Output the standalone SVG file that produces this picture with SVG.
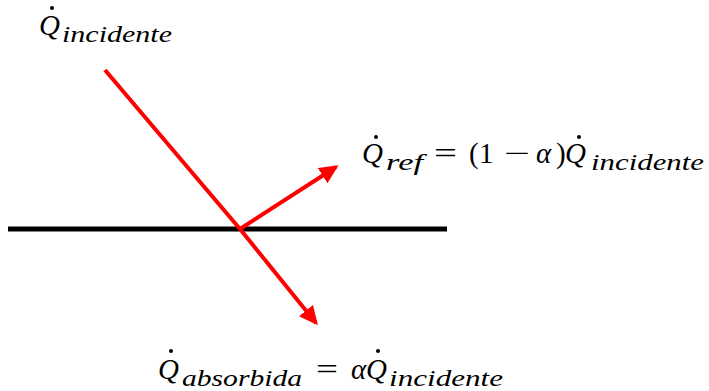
<svg xmlns="http://www.w3.org/2000/svg" width="709" height="391" viewBox="0 0 709 391">
<style>
.m{font-style:italic;font-size:29px;fill:#000}
.n{font-style:normal;font-size:29px;fill:#000}
.s{font-style:italic;font-size:24px;fill:#000}
.dot{fill:#000}
.ray{stroke:#ff0000;stroke-width:4;fill:none}
</style>
<defs>
<marker id="ah" markerUnits="userSpaceOnUse" markerWidth="20" markerHeight="18" refX="16" refY="9" orient="auto">
<path d="M0,0 L19,9 L0,18 Z" fill="#ff0000"/>
</marker>
</defs>
<g id="surface">
<line x1="8" y1="229" x2="447" y2="229" stroke="#000" stroke-width="5"/>
</g>
<g id="connectors">
<line class="ray" x1="105" y1="70" x2="240" y2="229"/>
<line class="ray" x1="240" y1="229" x2="316" y2="323" marker-end="url(#ah)"/>
<line class="ray" x1="240" y1="229" x2="336" y2="167" marker-end="url(#ah)"/>
</g>
<g font-family="Liberation Serif, Times New Roman, serif">
<g id="label-incidente">
<text class="m" x="39" y="35">Q</text>
<circle class="dot" cx="52" cy="8" r="2"/>
<text class="s" x="62" y="42" textLength="110" lengthAdjust="spacingAndGlyphs">incidente</text>
</g>
<g id="label-ref">
<text class="m" x="362" y="163">Q</text>
<circle class="dot" cx="376" cy="137" r="2"/>
<text class="s" x="386" y="170" textLength="37" lengthAdjust="spacingAndGlyphs">ref</text>
<text class="n" x="434" y="163" textLength="23" lengthAdjust="spacingAndGlyphs">=</text>
<text class="n" x="469" y="163">(</text>
<text class="n" x="479" y="163">1</text>
<text class="n" x="504" y="163" textLength="26" lengthAdjust="spacingAndGlyphs">−</text>
<text class="m" x="536" y="163">α</text>
<text class="n" x="556" y="163">)</text>
<text class="m" x="565" y="163">Q</text>
<circle class="dot" cx="579" cy="137" r="2"/>
<text class="s" x="591" y="170" textLength="113" lengthAdjust="spacingAndGlyphs">incidente</text>
</g>
<g id="label-absorbida">
<text class="m" x="158" y="379">Q</text>
<circle class="dot" cx="171" cy="351" r="2"/>
<text class="s" x="182" y="386" textLength="120" lengthAdjust="spacingAndGlyphs">absorbida</text>
<text class="n" x="316" y="379" textLength="22" lengthAdjust="spacingAndGlyphs">=</text>
<text class="m" x="351" y="379">α</text>
<text class="m" x="366" y="379">Q</text>
<circle class="dot" cx="378" cy="351" r="2"/>
<text class="s" x="389" y="386" textLength="114" lengthAdjust="spacingAndGlyphs">incidente</text>
</g>
</g>
</svg>
